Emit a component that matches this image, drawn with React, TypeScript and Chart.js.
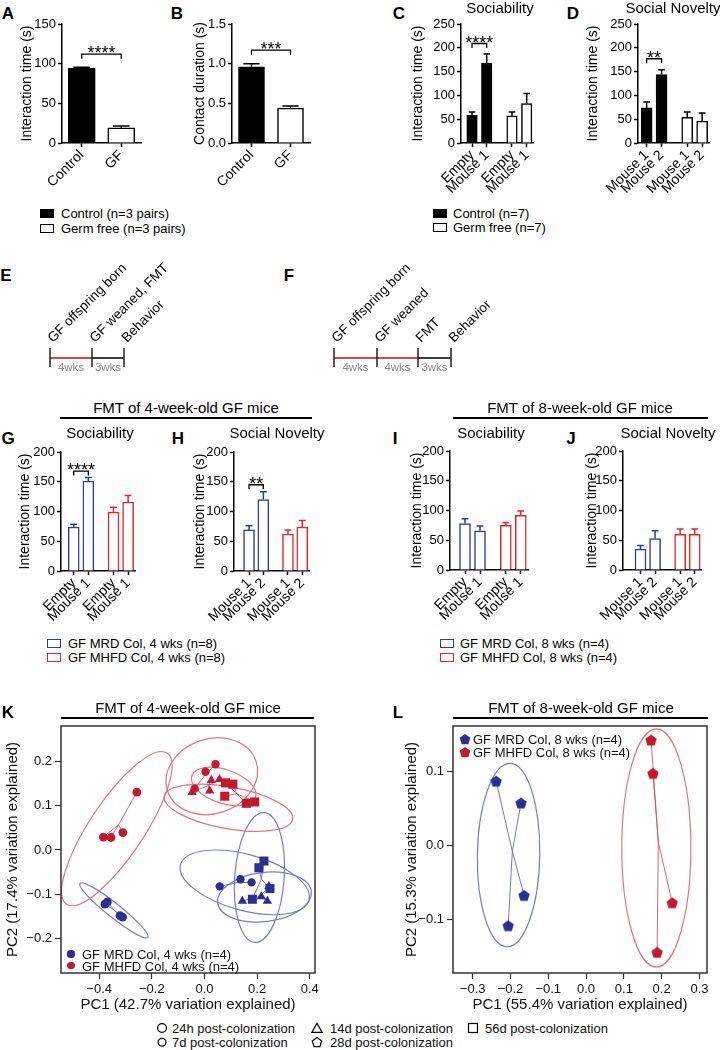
import React, { useEffect, useRef } from "react";
import { Chart, registerables } from "chart.js";

Chart.register(...registerables);

const FONT = "'Liberation Sans', Arial, Helvetica, sans-serif";
Chart.defaults.font.family = FONT;
Chart.defaults.color = "#000";

// ---------------- DATA ----------------
// Panel A
const aLabels = ["Control", "GF"];
const aValues = [94, 19];
const aErrors = [1.5, 2.5];
const aSig = { from: 1, to: 2, at: 112, text: "****" };
// Panel B
const bLabels = ["Control", "GF"];
const bValues = [0.96, 0.44];
const bErrors = [0.04, 0.025];
const bSig = { from: 1, to: 2, at: 1.17, text: "***" };
// Panel C
const cLabels = ["Empty", "Mouse 1", "Empty", "Mouse 1"];
const cValues = [58, 168, 57, 83];
const cErrors = [7, 19, 8, 21];
const cSig = { from: 1, to: 2, at: 209, text: "****" };
// Panel D
const dLabels = ["Mouse 1", "Mouse 2", "Mouse 1", "Mouse 2"];
const dValues = [74, 144, 54, 46];
const dErrors = [12, 10, 11, 17];
const dSig = { from: 1, to: 2, at: 177, text: "**" };
// Panel G
const gLabels = ["Empty", "Mouse 1", "Empty", "Mouse 1"];
const gValues = [74, 151, 99, 116];
const gErrors = [4.5, 6, 8, 11];
const gSig = { from: 1, to: 2, at: 168, text: "****" };
// Panel H
const hLabels = ["Mouse 1", "Mouse 2", "Mouse 1", "Mouse 2"];
const hValues = [69, 120, 62, 74];
const hErrors = [7, 13, 7, 11];
const hSig = { from: 1, to: 2, at: 145, text: "**" };
// Panel I
const iLabels = ["Empty", "Mouse 1", "Empty", "Mouse 1"];
const iValues = [78, 66, 75, 92];
const iErrors = [8, 8, 5, 7];
// Panel J
const jLabels = ["Mouse 1", "Mouse 2", "Mouse 1", "Mouse 2"];
const jValues = [35, 53, 60, 60];
const jErrors = [6, 13, 9, 9];

const pairSlots = [1, 2];
const groupSlots = [1, 2, 3.72, 4.72];
const ticks150 = [0, 50, 100, 150];
const ticks1_5 = [0, 0.5, 1.0, 1.5];
const ticks250 = [0, 50, 100, 150, 200, 250];
const ticks200 = [0, 50, 100, 150, 200];

// Panel K (PCoA, FMT of 4-week-old GF mice)
const kMrd24h = [[-0.378, -0.122], [-0.369, -0.117], [-0.321, -0.148], [-0.311, -0.151]];
const kMrd7d = [[0.058, -0.082], [0.137, -0.066], [0.179, -0.073]];
const kMrd14d = [[0.144, -0.115], [0.216, -0.105], [0.239, -0.115], [0.245, -0.082]];
const kMrd56d = [[0.226, -0.025], [0.207, -0.04], [0.249, -0.087], [0.182, -0.111]];
const kMhfd24h = [[-0.384, 0.029], [-0.355, 0.028], [-0.31, 0.039], [-0.257, 0.13]];
const kMhfd7d = [[0.004, 0.176], [0.042, 0.193], [-0.037, 0.138]];
const kMhfd14d = [[-0.047, 0.13], [0.02, 0.133], [0.026, 0.157], [0.057, 0.159]];
const kMhfd56d = [[0.077, 0.121], [0.108, 0.148], [0.08, 0.151], [0.159, 0.105], [0.191, 0.108]];
// ellipses: centre, major half-axis vector (data units), minor/major ratio
const kEllipsesMrd = [
  { cx: -0.344, cy: -0.136, ux: 0.129, uy: -0.061, ratio: 0.16 },
  { cx: 0.153, cy: -0.073, ux: 0.244, uy: -0.04, ratio: 0.42 },
  { cx: 0.228, cy: -0.106, ux: 0.178, uy: 0.013, ratio: 0.52 },
  { cx: 0.209, cy: -0.062, ux: 0.018, uy: 0.146, ratio: 0.38 },
];
const kEllipsesMhfd = [
  { cx: -0.333, cy: 0.048, ux: 0.191, uy: 0.17, ratio: 0.3 },
  { cx: 0.028, cy: 0.166, ux: 0.168, uy: 0.034, ratio: 0.8 },
  { cx: 0.073, cy: 0.143, ux: 0.121, uy: -0.024, ratio: 0.5 },
  { cx: 0.091, cy: 0.095, ux: 0.244, uy: -0.026, ratio: 0.32 },
];
const kXTicks = [-0.4, -0.2, 0, 0.2, 0.4];
const kYTicks = [-0.2, -0.1, 0, 0.1, 0.2];

// Panel L (PCoA, FMT of 8-week-old GF mice)
const lMrd28d = [[-0.238, 0.0865], [-0.172, 0.057], [-0.164, -0.068], [-0.206, -0.109]];
const lMhfd28d = [[0.172, 0.142], [0.177, 0.097], [0.228, -0.078], [0.188, -0.145]];
const lEllipsesMrd = [{ cx: -0.205, cy: -0.0135, ux: 0.004, uy: 0.124, ratio: 0.34 }];
const lEllipsesMhfd = [{ cx: 0.186, cy: -0.004, ux: 0.0, uy: 0.161, ratio: 0.29 }];
const lXTicks = [-0.3, -0.2, -0.1, 0, 0.1, 0.2, 0.3];
const lYTicks = [-0.1, 0, 0.1];

// ---------------- STYLE ----------------
const BLUE = "#2B3CA5";
const RED = "#E3262D";
const NAVY = "#2B2F8F";
const CRIMSON = "#C2192F";
const BLUE_LINE = "rgba(100,106,190,0.9)";
const RED_LINE = "rgba(212,86,100,0.9)";
const BLUE_ELL = "rgba(112,118,200,0.95)";
const RED_ELL = "rgba(224,112,124,0.95)";

// ---------------- PLUGINS ----------------
const barExtras = {
  id: "barExtras",
  afterDatasetsDraw(chart: any, _a: any, opts: any) {
    const { ctx } = chart;
    const meta = chart.getDatasetMeta(0);
    const ds = chart.data.datasets[0];
    const ys = chart.scales.y;
    const xs = chart.scales.x;
    ctx.save();
    ctx.lineWidth = 1.5;
    meta.data.forEach((bar: any, i: number) => {
      const v = ds.data[i].y;
      const e = opts.errors[i];
      const color = Array.isArray(ds.borderColor) ? ds.borderColor[i] : ds.borderColor;
      const yTop = ys.getPixelForValue(v + e);
      const yBar = ys.getPixelForValue(v);
      const half = bar.width * 0.31;
      ctx.strokeStyle = color;
      ctx.beginPath();
      ctx.moveTo(bar.x, yBar);
      ctx.lineTo(bar.x, yTop);
      ctx.moveTo(bar.x - half, yTop);
      ctx.lineTo(bar.x + half, yTop);
      ctx.stroke();
    });
    const s = opts.sig;
    if (s) {
      const x1 = xs.getPixelForValue(s.from);
      const x2 = xs.getPixelForValue(s.to);
      const y = ys.getPixelForValue(s.at);
      ctx.strokeStyle = "#000";
      ctx.lineWidth = 1.3;
      ctx.beginPath();
      ctx.moveTo(x1, y + 4.5);
      ctx.lineTo(x1, y);
      ctx.lineTo(x2, y);
      ctx.lineTo(x2, y + 4.5);
      ctx.stroke();
      ctx.fillStyle = "#000";
      ctx.font = `18px ${FONT}`;
      ctx.textAlign = "center";
      ctx.textBaseline = "alphabetic";
      ctx.fillText(s.text, (x1 + x2) / 2, y + 5);
    }
    ctx.restore();
  },
};

const pcoaExtras = {
  id: "pcoaExtras",
  beforeDatasetsDraw(chart: any, _a: any, opts: any) {
    const { ctx, chartArea: ca } = chart;
    const xs = chart.scales.x;
    const ys = chart.scales.y;
    ctx.save();
    ctx.beginPath();
    ctx.rect(ca.left, ca.top, ca.right - ca.left, ca.bottom - ca.top);
    ctx.clip();
    (opts.ellipses || []).forEach((e: any) => {
      const cx = xs.getPixelForValue(e.cx);
      const cy = ys.getPixelForValue(e.cy);
      const dx = xs.getPixelForValue(e.cx + e.ux) - cx;
      const dy = ys.getPixelForValue(e.cy + e.uy) - cy;
      const a = Math.hypot(dx, dy);
      ctx.beginPath();
      ctx.ellipse(cx, cy, a, a * e.ratio, Math.atan2(dy, dx), 0, Math.PI * 2);
      ctx.strokeStyle = e.color;
      ctx.lineWidth = 1.2;
      ctx.stroke();
    });
    chart.data.datasets.forEach((ds: any) => {
      if (!ds.spiderColor) return;
      const pts = ds.data;
      const mx = pts.reduce((s: number, p: any) => s + p.x, 0) / pts.length;
      const my = pts.reduce((s: number, p: any) => s + p.y, 0) / pts.length;
      const px = xs.getPixelForValue(mx);
      const py = ys.getPixelForValue(my);
      ctx.strokeStyle = ds.spiderColor;
      ctx.lineWidth = 1;
      pts.forEach((p: any) => {
        ctx.beginPath();
        ctx.moveTo(px, py);
        ctx.lineTo(xs.getPixelForValue(p.x), ys.getPixelForValue(p.y));
        ctx.stroke();
      });
    });
    ctx.restore();
  },
  afterDraw(chart: any) {
    const { ctx, chartArea: ca } = chart;
    ctx.save();
    ctx.strokeStyle = "#333";
    ctx.lineWidth = 1.5;
    ctx.strokeRect(ca.left, ca.top, ca.right - ca.left, ca.bottom - ca.top);
    ctx.restore();
  },
};

// ---------------- BAR PANELS ----------------
type Geo = { titleX: number; axisX: number; rightX: number; top: number; bottom: number; xMin: number; xMax: number; barW: number };

const blackWhite = { fills: ["#000", "#000", "#fff", "#fff"], borders: ["#000", "#000", "#000", "#000"] };
const blueRed = { fills: ["#fff", "#fff", "#fff", "#fff"], borders: [BLUE, BLUE, RED, RED] };

const barPanels = [
  { key: "A", labels: aLabels, values: aValues, errors: aErrors, slots: pairSlots, fills: ["#000", "#fff"], borders: ["#000", "#000"], yTicks: ticks150, dec: 0, sig: aSig,
    geo: { titleX: 27.5, axisX: 62, rightX: 141, top: 24, bottom: 143, xMin: 0.5, xMax: 2.5, barW: 27 } },
  { key: "B", labels: bLabels, values: bValues, errors: bErrors, slots: pairSlots, fills: ["#000", "#fff"], borders: ["#000", "#000"], yTicks: ticks1_5, dec: 1, sig: bSig, yTitle: "Contact duration (s)",
    geo: { titleX: 200, axisX: 232, rightX: 310, top: 24, bottom: 143, xMin: 0.5, xMax: 2.5, barW: 26 } },
  { key: "C", labels: cLabels, values: cValues, errors: cErrors, slots: groupSlots, ...blackWhite, yTicks: ticks250, dec: 0, sig: cSig,
    geo: { titleX: 418, axisX: 461, rightX: 533, top: 24, bottom: 143, xMin: 0.25, xMax: 5.15, barW: 10.5 } },
  { key: "D", labels: dLabels, values: dValues, errors: dErrors, slots: groupSlots, ...blackWhite, yTicks: ticks250, dec: 0, sig: dSig,
    geo: { titleX: 593, axisX: 638, rightX: 709, top: 24, bottom: 143, xMin: 0.42, xMax: 5.18, barW: 11 } },
  { key: "G", labels: gLabels, values: gValues, errors: gErrors, slots: groupSlots, ...blueRed, yTicks: ticks200, dec: 0, sig: gSig,
    geo: { titleX: 25, axisX: 61, rightX: 135, top: 452, bottom: 571, xMin: 0.13, xMax: 5.19, barW: 11 } },
  { key: "H", labels: hLabels, values: hValues, errors: hErrors, slots: groupSlots, ...blueRed, yTicks: ticks200, dec: 0, sig: hSig,
    geo: { titleX: 200, axisX: 234, rightX: 309, top: 452, bottom: 571, xMin: -0.05, xMax: 5.19, barW: 11 } },
  { key: "I", labels: iLabels, values: iValues, errors: iErrors, slots: groupSlots, ...blueRed, yTicks: ticks200, dec: 0, sig: null,
    geo: { titleX: 417, axisX: 450, rightX: 528, top: 451, bottom: 570, xMin: 0, xMax: 5.2, barW: 11 } },
  { key: "J", labels: jLabels, values: jValues, errors: jErrors, slots: groupSlots, ...blueRed, yTicks: ticks200, dec: 0, sig: null,
    geo: { titleX: 592, axisX: 623, rightX: 701, top: 451, bottom: 570, xMin: -0.2, xMax: 5.15, barW: 11 } },
];

function ChartCanvas({ left, top, width, height, make }: any) {
  const ref = useRef<HTMLCanvasElement>(null);
  useEffect(() => {
    const chart = new Chart(ref.current as HTMLCanvasElement, make());
    return () => chart.destroy();
  }, []);
  return (
    <canvas ref={ref} width={width} height={height}
      style={{ position: "absolute", left, top, width, height, display: "block" }} />
  );
}

function BarPanel({ p }: any) {
  const g: Geo = p.geo;
  const padTop = 12, padRight = 10, below = 62;
  const left = Math.round(g.titleX - 8.4);
  const top = g.top - padTop;
  const width = g.rightX + padRight - left;
  const height = g.bottom + below - top;
  const make = () => ({
    type: "bar",
    data: {
      datasets: [{
        data: p.slots.map((s: number, i: number) => ({ x: s, y: p.values[i] })),
        backgroundColor: p.fills,
        borderColor: p.borders,
        borderWidth: 1.5,
        barThickness: g.barW,
      }],
    },
    options: {
      responsive: false,
      animation: false,
      events: [],
      layout: { padding: { top: padTop, right: padRight, left: 0, bottom: 0 } },
      plugins: { legend: { display: false }, tooltip: { enabled: false }, barExtras: { errors: p.errors, sig: p.sig } },
      scales: {
        x: {
          type: "linear", min: g.xMin, max: g.xMax, offset: false,
          afterBuildTicks: (s: any) => { s.ticks = p.slots.map((v: number) => ({ value: v })); },
          afterFit: (s: any) => { s.height = below; },
          ticks: { autoSkip: false, minRotation: 45, maxRotation: 45, padding: 0, color: "#000",
            font: { size: 14 }, callback: (_v: any, i: number) => p.labels[i] },
          grid: { offset: false, drawOnChartArea: false, drawTicks: true, tickLength: 4, tickWidth: 1.5, tickColor: "#000" },
          border: { display: true, color: "#000", width: 1.5 },
        },
        y: {
          type: "linear", min: 0, max: p.yTicks[p.yTicks.length - 1],
          afterBuildTicks: (s: any) => { s.ticks = p.yTicks.map((v: number) => ({ value: v })); },
          afterFit: (s: any) => { s.width = g.axisX - left; },
          ticks: { padding: 2, color: "#000", font: { size: 13 }, callback: (v: number) => v.toFixed(p.dec) },
          grid: { drawOnChartArea: false, drawTicks: true, tickLength: 4, tickWidth: 1.5, tickColor: "#000" },
          border: { display: true, color: "#000", width: 1.5 },
          title: { display: true, text: p.yTitle || "Interaction time (s)", font: { size: 14 }, padding: 0, color: "#000" },
        },
      },
    },
    plugins: [barExtras],
  });
  return <ChartCanvas left={left} top={top} width={width} height={height} make={make} />;
}

// ---------------- PCoA PANELS ----------------
function pentagonCanvas(color: string, r: number) {
  const s = Math.ceil(2 * r + 2);
  const c = document.createElement("canvas");
  c.width = s;
  c.height = s;
  const ctx = c.getContext("2d") as CanvasRenderingContext2D;
  ctx.beginPath();
  for (let k = 0; k < 5; k++) {
    const a = -Math.PI / 2 + (k * 2 * Math.PI) / 5;
    const px = s / 2 + r * Math.cos(a);
    const py = s / 2 + r * Math.sin(a) + r * 0.1;
    if (k === 0) ctx.moveTo(px, py);
    else ctx.lineTo(px, py);
  }
  ctx.closePath();
  ctx.fillStyle = color;
  ctx.fill();
  return c;
}

const toPts = (arr: number[][]) => arr.map(([x, y]) => ({ x, y }));
const fmtMinus = (v: number) => (Math.abs(v) < 1e-9 ? "0.0" : v < 0 ? "\u2212" + Math.abs(v).toFixed(1) : v.toFixed(1));

function pcoaOptions(o: any) {
  return {
    responsive: false,
    animation: false,
    events: [],
    layout: { padding: { top: o.padTop, right: o.padRight, left: 0, bottom: 0 } },
    plugins: { legend: { display: false }, tooltip: { enabled: false }, pcoaExtras: { ellipses: o.ellipses } },
    scales: {
      x: {
        type: "linear", min: o.xMin, max: o.xMax,
        afterBuildTicks: (s: any) => { s.ticks = o.xTicks.map((v: number) => ({ value: v })); },
        afterFit: (s: any) => { s.height = o.xHeight; },
        ticks: { autoSkip: false, maxRotation: 0, padding: 3, color: "#111", font: { size: 13 }, callback: (v: number) => fmtMinus(v) },
        grid: { drawOnChartArea: false, drawTicks: true, tickLength: 6, tickWidth: 1.2, tickColor: "#333" },
        border: { display: false },
        title: { display: true, text: o.xTitle, font: { size: 15 }, padding: 0, color: "#111" },
      },
      y: {
        type: "linear", min: o.yMin, max: o.yMax,
        afterBuildTicks: (s: any) => { s.ticks = o.yTicks.map((v: number) => ({ value: v })); },
        afterFit: (s: any) => { s.width = o.yWidth; },
        ticks: { autoSkip: false, padding: 3, color: "#111", font: { size: 13 }, callback: (v: number) => fmtMinus(v) },
        grid: { drawOnChartArea: false, drawTicks: true, tickLength: 6, tickWidth: 1.2, tickColor: "#333" },
        border: { display: false },
        title: { display: true, text: o.yTitle, font: { size: 15 }, padding: 0, color: "#111" },
      },
    },
  };
}

function PanelK() {
  const left = 4, top = 700, width = 326, height = 314;
  const make = () => {
    const ds = (arr: number[][], style: string, r: number, color: string, line: string) => ({
      data: toPts(arr), pointStyle: style, pointRadius: r, backgroundColor: color, borderColor: color,
      pointBorderWidth: 0, spiderColor: line,
    });
    return {
      type: "scatter",
      data: {
        datasets: [
          ds(kMrd24h, "circle", 4.4, NAVY, BLUE_LINE),
          ds(kMrd7d, "circle", 4.2, NAVY, BLUE_LINE),
          ds(kMrd14d, "triangle", 5.4, NAVY, BLUE_LINE),
          ds(kMrd56d, "rect", 6.4, NAVY, BLUE_LINE),
          ds(kMhfd24h, "circle", 4.4, CRIMSON, RED_LINE),
          ds(kMhfd7d, "circle", 4.2, CRIMSON, RED_LINE),
          ds(kMhfd14d, "triangle", 5.4, CRIMSON, RED_LINE),
          ds(kMhfd56d, "rect", 6.4, CRIMSON, RED_LINE),
        ],
      },
      options: pcoaOptions({
        padTop: 726 - top, padRight: left + width - 315, xHeight: top + height - 973, yWidth: 61 - left,
        xMin: -0.545, xMax: 0.42, yMin: -0.277, yMax: 0.279, xTicks: kXTicks, yTicks: kYTicks,
        xTitle: "PC1 (42.7% variation explained)", yTitle: "PC2 (17.4% variation explained)",
        ellipses: [
          ...kEllipsesMrd.map((e) => ({ ...e, color: BLUE_ELL })),
          ...kEllipsesMhfd.map((e) => ({ ...e, color: RED_ELL })),
        ],
      }),
      plugins: [pcoaExtras],
    };
  };
  return <ChartCanvas left={left} top={top} width={width} height={height} make={make} />;
}

function PanelL() {
  const left = 403, top = 700, width = 317, height = 314;
  const make = () => ({
    type: "scatter",
    data: {
      datasets: [
        { data: toPts(lMrd28d), pointStyle: pentagonCanvas(NAVY, 6), pointRadius: 6, spiderColor: BLUE_LINE },
        { data: toPts(lMhfd28d), pointStyle: pentagonCanvas(CRIMSON, 6), pointRadius: 6, spiderColor: RED_LINE },
      ],
    },
    options: pcoaOptions({
      padTop: 726 - top, padRight: left + width - 707, xHeight: top + height - 973, yWidth: 453 - left,
      xMin: -0.352, xMax: 0.32, yMin: -0.173, yMax: 0.161, xTicks: lXTicks, yTicks: lYTicks,
      xTitle: "PC1 (55.4% variation explained)", yTitle: "PC2 (15.3% variation explained)",
      ellipses: [
        ...lEllipsesMrd.map((e) => ({ ...e, color: BLUE_ELL })),
        ...lEllipsesMhfd.map((e) => ({ ...e, color: RED_ELL })),
      ],
    }),
    plugins: [pcoaExtras],
  });
  return <ChartCanvas left={left} top={top} width={width} height={height} make={make} />;
}

// ---------------- TEXT HELPERS ----------------
function T({ x, y, size = 13, bold = false, color = "#000", align = "center", children }: any) {
  return (
    <div style={{
      position: "absolute", left: x, top: y, fontSize: size, fontWeight: bold ? 700 : 400, color,
      whiteSpace: "nowrap", lineHeight: 1,
      transform: align === "center" ? "translate(-50%,-50%)" : "translate(0,-50%)",
    }}>{children}</div>
  );
}

function Letter({ x, y, c }: any) {
  return <T x={x} y={y} size={17} bold>{c}</T>;
}

function Header({ x, y, lineY, x1, x2, text }: any) {
  return (
    <>
      <T x={x} y={y} size={15}>{text}</T>
      <div style={{ position: "absolute", left: x1, top: lineY - 1, width: x2 - x1, height: 2, background: "#000" }} />
    </>
  );
}

function LegBox({ x, y, fill, border, text, tx }: any) {
  return (
    <>
      <div style={{ position: "absolute", left: x, top: y - 4.5, width: 14, height: 9, boxSizing: "border-box",
        background: fill, border: `1.5px solid ${border}` }} />
      <T x={tx} y={y} size={13} align="left">{text}</T>
    </>
  );
}

function Rot({ x, y, text }: any) {
  const lh = 15;
  return (
    <div style={{ position: "absolute", left: x + 5, top: y - lh, height: lh, lineHeight: `${lh}px`, fontSize: 13.5,
      whiteSpace: "nowrap", transformOrigin: "0 100%", transform: "rotate(-45deg)" }}>{text}</div>
  );
}

function Timeline({ ticks, redUntil, labels, spans, y }: any) {
  const x0 = ticks[0], x1 = ticks[ticks.length - 1];
  return (
    <>
      <svg style={{ position: "absolute", left: 0, top: 0, overflow: "visible" }} width={720} height={400}>
        <line x1={x0} y1={y} x2={ticks[redUntil]} y2={y} stroke="#D8434E" strokeWidth={2} />
        <line x1={ticks[redUntil]} y1={y} x2={x1} y2={y} stroke="#3a3a3a" strokeWidth={2} />
        {ticks.map((t: number, i: number) => (
          <line key={i} x1={t} y1={y - 10} x2={t} y2={y + 9} stroke="#222" strokeWidth={1.5} />
        ))}
      </svg>
      {labels.map((l: string, i: number) => <Rot key={"r" + i} x={ticks[i]} y={y - 13} text={l} />)}
      {spans.map((s: string, i: number) => (
        <T key={"s" + i} x={(ticks[i] + ticks[i + 1]) / 2} y={y + 10} size={11.5} color="#8a8a8a">{s}</T>
      ))}
    </>
  );
}

function Shape({ kind, x, y }: any) {
  const s = 12;
  let el: any = null;
  if (kind === "circle") el = <circle cx={6} cy={6} r={4.4} fill="none" stroke="#000" strokeWidth={1.2} />;
  if (kind === "small") el = <circle cx={6} cy={6.3} r={3.9} fill="none" stroke="#000" strokeWidth={1.2} />;
  if (kind === "tri") el = <polygon points="6,1.3 11,10.3 1,10.3" fill="none" stroke="#000" strokeWidth={1.2} />;
  if (kind === "sq") el = <rect x={1.5} y={1.5} width={9} height={9} fill="none" stroke="#000" strokeWidth={1.2} />;
  if (kind === "pent") {
    const pts = [0, 1, 2, 3, 4].map((k) => {
      const a = -Math.PI / 2 + (k * 2 * Math.PI) / 5;
      return `${6 + 5 * Math.cos(a)},${6.5 + 5 * Math.sin(a)}`;
    }).join(" ");
    el = <polygon points={pts} fill="none" stroke="#000" strokeWidth={1.2} />;
  }
  return <svg width={s} height={s} style={{ position: "absolute", left: x - 6, top: y - 6 }}>{el}</svg>;
}

function Dot({ x, y, color }: any) {
  return <div style={{ position: "absolute", left: x - 3.6, top: y - 3.6, width: 7.2, height: 7.2, borderRadius: "50%", background: color }} />;
}

function Pent({ x, y, color }: any) {
  const pts = [0, 1, 2, 3, 4].map((k) => {
    const a = -Math.PI / 2 + (k * 2 * Math.PI) / 5;
    return `${6 + 5.6 * Math.cos(a)},${6.6 + 5.6 * Math.sin(a)}`;
  }).join(" ");
  return <svg width={12} height={12} style={{ position: "absolute", left: x - 6, top: y - 6 }}><polygon points={pts} fill={color} /></svg>;
}

export default function App() {
  useEffect(() => { document.body.style.margin = "0"; }, []);
  return (
    <div style={{ position: "absolute", left: 0, top: 0, width: 720, height: 1050, overflow: "hidden",
      background: "#fff", fontFamily: FONT, color: "#000" }}>
      {barPanels.map((p) => <BarPanel key={p.key} p={p} />)}
      <PanelK />
      <PanelL />

      {/* panel letters */}
      <Letter x={8} y={13} c="A" />
      <Letter x={177} y={13} c="B" />
      <Letter x={399} y={13} c="C" />
      <Letter x={573} y={13} c="D" />
      <Letter x={6} y={275} c="E" />
      <Letter x={289} y={275} c="F" />
      <Letter x={8} y={438} c="G" />
      <Letter x={178} y={438} c="H" />
      <Letter x={395} y={438} c="I" />
      <Letter x={571} y={438} c="J" />
      <Letter x={8} y={712} c="K" />
      <Letter x={398} y={712} c="L" />

      {/* titles */}
      <T x={500} y={7} size={15}>Sociability</T>
      <T x={673} y={7} size={15}>Social Novelty</T>
      <T x={100} y={432} size={15}>Sociability</T>
      <T x={277} y={432} size={15}>Social Novelty</T>
      <T x={491} y={432} size={15}>Sociability</T>
      <T x={668} y={432} size={15}>Social Novelty</T>

      <Header x={186} y={407} lineY={418} x1={60} x2={312} text="FMT of 4-week-old GF mice" />
      <Header x={580} y={407} lineY={418} x1={453} x2={708} text="FMT of 8-week-old GF mice" />
      <Header x={188} y={707} lineY={718} x1={61} x2={314} text="FMT of 4-week-old GF mice" />
      <Header x={581} y={707} lineY={718} x1={453} x2={708} text="FMT of 8-week-old GF mice" />

      {/* bar legends */}
      <LegBox x={40} y={213} fill="#000" border="#000" tx={61} text="Control (n=3 pairs)" />
      <LegBox x={40} y={228} fill="#fff" border="#000" tx={61} text="Germ free (n=3 pairs)" />
      <LegBox x={433} y={213} fill="#000" border="#000" tx={453} text="Control (n=7)" />
      <LegBox x={433} y={227} fill="#fff" border="#000" tx={453} text="Germ free (n=7)" />
      <LegBox x={47} y={643} fill="#fff" border={BLUE} tx={68} text="GF MRD Col, 4 wks (n=8)" />
      <LegBox x={47} y={657} fill="#fff" border={RED} tx={68} text="GF MHFD Col, 4 wks (n=8)" />
      <LegBox x={440} y={643} fill="#fff" border={BLUE} tx={460} text="GF MRD Col, 8 wks (n=4)" />
      <LegBox x={440} y={657} fill="#fff" border={RED} tx={460} text="GF MHFD Col, 8 wks (n=4)" />

      {/* timelines */}
      <Timeline y={358} ticks={[50, 92, 124]} redUntil={1}
        labels={["GF offspring born", "GF weaned, FMT", "Behavior"]} spans={["4wks", "3wks"]} />
      <Timeline y={358} ticks={[334, 377, 418, 451]} redUntil={2}
        labels={["GF offspring born", "GF weaned", "FMT", "Behavior"]} spans={["4wks", "4wks", "3wks"]} />

      {/* PCoA legends */}
      <Dot x={71} y={954} color={NAVY} />
      <T x={82} y={954} size={13} align="left" color="#111">GF MRD Col, 4 wks (n=4)</T>
      <Dot x={71} y={965.5} color={CRIMSON} />
      <T x={82} y={965.5} size={13} align="left" color="#111">GF MHFD Col, 4 wks (n=4)</T>
      <Pent x={465} y={739} color={NAVY} />
      <T x={473} y={739} size={13} align="left" color="#111">GF MRD Col, 8 wks (n=4)</T>
      <Pent x={465} y={752} color={CRIMSON} />
      <T x={473} y={752} size={13} align="left" color="#111">GF MHFD Col, 8 wks (n=4)</T>

      {/* time point legend */}
      <Shape kind="circle" x={162} y={1028} />
      <T x={172} y={1028} size={13} align="left" color="#111">24h post-colonization</T>
      <Shape kind="tri" x={317} y={1028} />
      <T x={330} y={1028} size={13} align="left" color="#111">14d post-colonization</T>
      <Shape kind="sq" x={473} y={1028} />
      <T x={485} y={1028} size={13} align="left" color="#111">56d post-colonization</T>
      <Shape kind="small" x={162} y={1042} />
      <T x={172} y={1042} size={13} align="left" color="#111">7d post-colonization</T>
      <Shape kind="pent" x={317} y={1042} />
      <T x={330} y={1042} size={13} align="left" color="#111">28d post-colonization</T>
    </div>
  );
}
